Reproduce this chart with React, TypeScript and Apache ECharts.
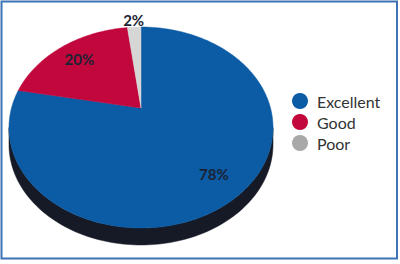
import React, { useEffect, useRef } from 'react';
import * as echarts from 'echarts';

const categories = ['Excellent', 'Good', 'Poor'];
const values = [78, 20, 2];
const valueLabels = ['78%', '20%', '2%'];
const sliceColors = ['#0b5ba5', '#c2073c', '#d6d6d6'];
const legendColors = ['#0b5ba5', '#c2073c', '#a8a8a8'];
const labelRadius = [0.78, 0.77, 1.1];

// perspective geometry of the tilted pie
const CX = 141, CY = 108, A = 129.5, B = 96.7, K = 0.194, DEPTH = 17;

function project(theta: number, r: number, dy = 0): number[] {
  const u = r * Math.sin(theta);
  const v = r * Math.cos(theta);
  const w = 1 + K * v;
  return [CX + (A * u) / w, CY - (B * v) / w + dy];
}

const total = values.reduce((s, v) => s + v, 0);

function sliceRender(idx: number) {
  return (params: any, api: any) => {
    const val = api.value(0);
    let before = 0;
    for (let i = 0; i < idx; i++) before += values[i];
    const a0 = (before / total) * Math.PI * 2;
    const a1 = ((before + val) / total) * Math.PI * 2;
    const pts: number[][] = [[CX, CY]];
    const steps = Math.max(2, Math.ceil(((a1 - a0) * 180) / Math.PI));
    for (let s = 0; s <= steps; s++) {
      pts.push(project(a0 + ((a1 - a0) * s) / steps, 1));
    }
    const mid = (a0 + a1) / 2;
    const lp = project(mid, labelRadius[idx]);
    return {
      type: 'group',
      children: [
        { type: 'polygon', shape: { points: pts }, style: { fill: sliceColors[idx], stroke: sliceColors[idx], lineWidth: 0.5 } },
        {
          type: 'text',
          z2: 10,
          style: {
            text: valueLabels[idx],
            x: lp[0],
            y: lp[1],
            align: 'center',
            verticalAlign: 'middle',
            fill: '#1b2233',
            font: 'bold 15px Lato, "Open Sans", sans-serif',
          },
        },
      ],
    };
  };
}

function sideRender() {
  const t0 = Math.acos(-K);
  const t1 = Math.PI * 2 - t0;
  const pts: number[][] = [];
  const n = 120;
  for (let s = 0; s <= n; s++) pts.push(project(t0 + ((t1 - t0) * s) / n, 1));
  for (let s = n; s >= 0; s--) pts.push(project(t0 + ((t1 - t0) * s) / n, 1, DEPTH));
  return {
    type: 'polygon',
    shape: { points: pts },
    style: { fill: '#151a26', stroke: '#151a26', lineWidth: 0.5 },
  };
}

export default function App() {
  const ref = useRef<HTMLDivElement>(null);
  useEffect(() => {
    if (!ref.current) return;
    const chart = echarts.init(ref.current, undefined, { renderer: 'svg' });
    const series: any[] = [
      {
        type: 'custom',
        name: 'side',
        coordinateSystem: 'none',
        silent: true,
        data: [[0]],
        renderItem: sideRender,
        z: 1,
      },
      ...categories.map((c, i) => ({
        type: 'custom',
        name: c,
        coordinateSystem: 'none',
        silent: true,
        itemStyle: { color: sliceColors[i] },
        data: [[values[i]]],
        renderItem: sliceRender(i),
        z: 2,
      })),
    ];
    chart.setOption({
      animation: false,
      backgroundColor: '#ffffff',
      legend: {
        orient: 'vertical',
        left: 292,
        top: 93,
        padding: 0,
        icon: 'circle',
        itemWidth: 16,
        itemHeight: 16,
        itemGap: 5,
        selectedMode: false,
        data: categories.map((c, i) => ({ name: c, itemStyle: { color: legendColors[i] } })),
        textStyle: {
          fontSize: 16,
          lineHeight: 16,
          color: '#333333',
          fontFamily: 'Lato, "Open Sans", sans-serif',
          padding: [0, 0, 0, 4],
        },
      },
      graphic: [
        {
          type: 'rect',
          shape: { x: 1.5, y: 1.5, width: 395.5, height: 257 },
          style: { fill: 'none', stroke: '#3d72b4', lineWidth: 2 },
          z: 100,
        },
      ],
      series,
    });
    return () => chart.dispose();
  }, []);
  return <div ref={ref} style={{ position: 'absolute', left: 0, top: 0, width: 400, height: 264 }} />;
}
